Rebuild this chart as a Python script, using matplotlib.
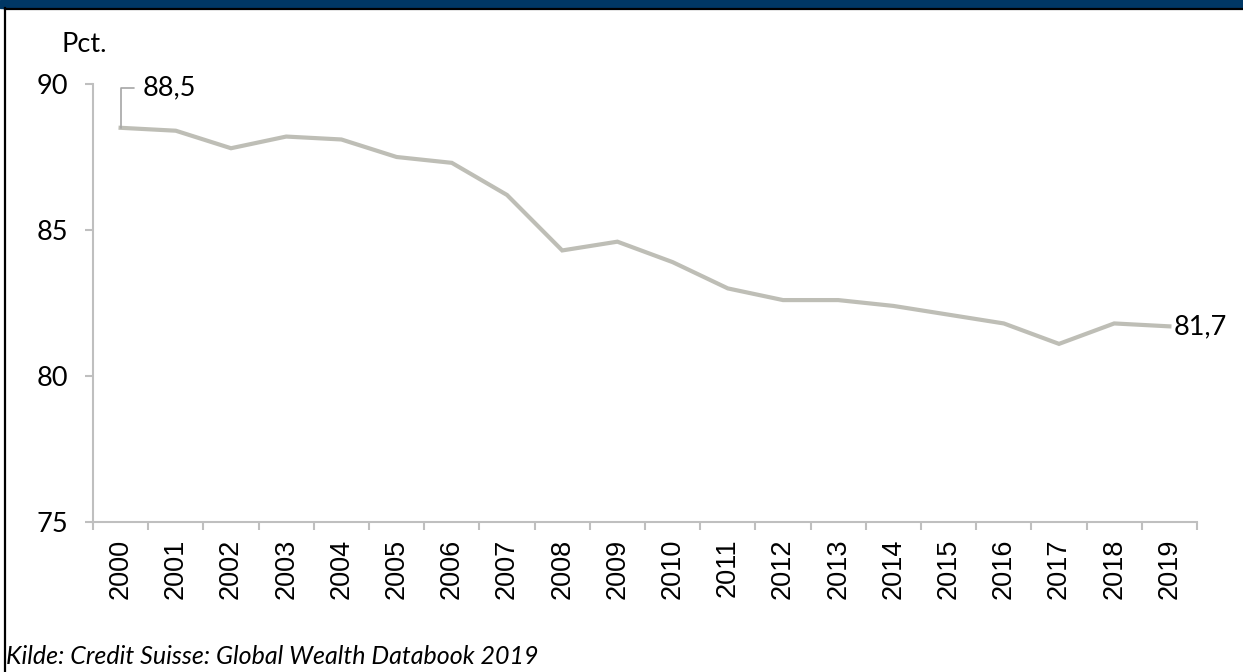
import matplotlib
matplotlib.use("Agg")
import matplotlib.pyplot as plt
from matplotlib.lines import Line2D
from matplotlib.patches import Rectangle

# data
years = [str(y) for y in range(2000, 2020)]
values = [88.5, 88.4, 87.8, 88.2, 88.1, 87.5, 87.3, 86.2, 84.3, 84.6,
          83.9, 83.0, 82.6, 82.6, 82.4, 82.1, 81.8, 81.1, 81.8, 81.7]
y_ticks = [75, 80, 85, 90]
source = "Kilde: Credit Suisse: Global Wealth Databook 2019"

W, H = 1243, 672
fig = plt.figure(figsize=(W / 100, H / 100), dpi=100)
ax = fig.add_axes([93 / W, 1 - 522 / H, (1197 - 93) / W, (522 - 84) / H])

line_col = "#BEBEB6"
axis_col = "#BFBFBF"
fs = 19.5

x = list(range(len(years)))
ax.plot(x, values, color=line_col, lw=3.0, solid_joinstyle="miter")

ax.set_xlim(-0.5, len(years) - 0.5)
ax.set_ylim(75, 90)

for s in ["top", "right"]:
    ax.spines[s].set_visible(False)
for s in ["left", "bottom"]:
    ax.spines[s].set_color(axis_col)
    ax.spines[s].set_linewidth(1.5)

ax.set_yticks(y_ticks)
ax.set_yticklabels([str(v) for v in y_ticks], fontfamily="Lato", fontsize=fs)
ax.tick_params(axis="y", length=6, width=1.5, color=axis_col, pad=12)

# category boundaries carry the ticks, centres carry the labels
ax.set_xticks([i - 0.5 for i in range(len(years) + 1)])
ax.set_xticklabels([])
ax.set_xticks(x, minor=True)
ax.set_xticklabels(years, minor=True, rotation=90, fontfamily="Liberation Sans",
                   fontsize=fs)
ax.tick_params(axis="x", which="major", length=6, width=1.5, color=axis_col)
ax.tick_params(axis="x", which="minor", length=0, pad=12)

fig.text(62 / W, 1 - 45 / H, "Pct.", ha="left", va="center",
         fontfamily="Lato", fontsize=fs)

# end labels
ax.annotate(f"{values[0]:.1f}".replace(".", ","), xy=(x[0], values[0]),
            xytext=(16, 29), textcoords="offset points", ha="left", va="center",
            fontfamily="Lato", fontsize=fs,
            arrowprops=dict(arrowstyle="-", color="#A6A6A6", lw=1.2,
                            shrinkA=4, shrinkB=0,
                            connectionstyle="angle,angleA=0,angleB=90,rad=0"))
ax.annotate(f"{values[-1]:.1f}".replace(".", ","), xy=(x[-1], values[-1]),
            xytext=(3, 0), textcoords="offset points", ha="left", va="center",
            fontfamily="Lato", fontsize=fs)

# banner and frame
fig.add_artist(Rectangle((0, 1 - 8 / H), 1, 8 / H, transform=fig.transFigure,
                         color="#003764", zorder=0))
fig.add_artist(Line2D([5 / W, 5 / W], [0, 1 - 8 / H], transform=fig.transFigure,
                      color="black", lw=1.6))
fig.add_artist(Line2D([5 / W, 1], [1 - 9 / H, 1 - 9 / H], transform=fig.transFigure,
                      color="black", lw=1.6))

fig.text(6 / W, 1 - 656 / H, source, ha="left", va="center",
         fontfamily="Lato", fontstyle="italic", fontsize=18)

fig.savefig("out.png", dpi=100)
